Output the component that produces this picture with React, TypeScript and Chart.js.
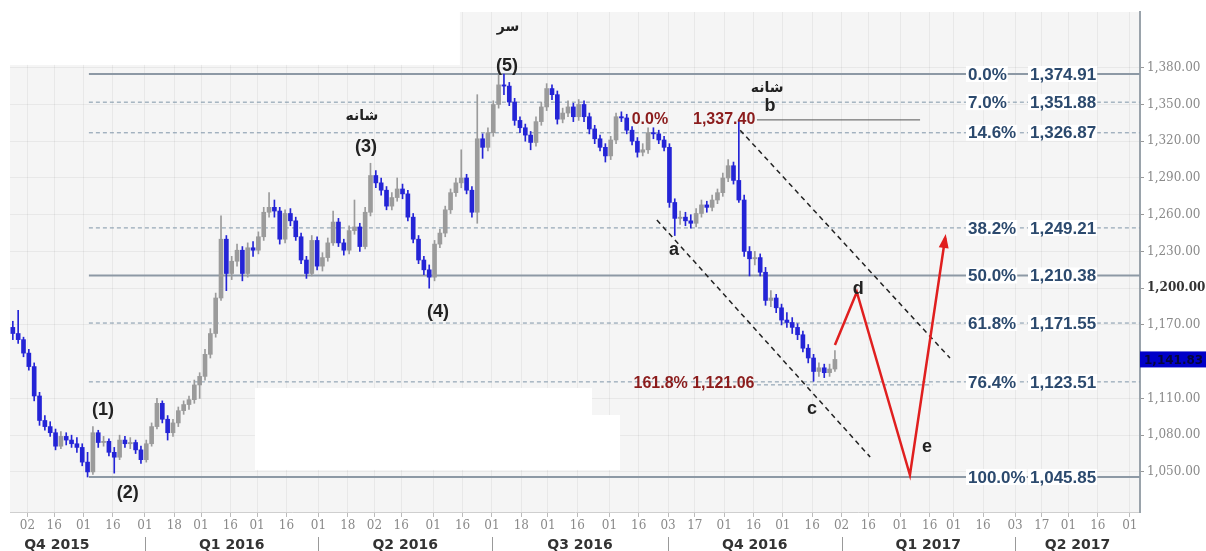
import React, { useEffect, useRef } from "react";
import { Chart, registerables } from "chart.js";
Chart.register(...registerables);

// ---- data: gold, 2-session bars starting 2015-10-23 ----
const START_DATE = "2015-10-23";
const SESSIONS_PER_BAR = 2;

const opens = [
  1168, 1163, 1158, 1147, 1136, 1112, 1092, 1087, 1082, 1071,
  1079, 1076, 1073, 1070, 1058, 1050, 1082, 1074, 1075, 1066,
  1062, 1076, 1073, 1074, 1068, 1060, 1073, 1087, 1106, 1093,
  1082, 1090, 1100, 1105, 1109, 1121, 1128, 1146, 1163, 1192,
  1240, 1212, 1222, 1231, 1212, 1233, 1231, 1242, 1262, 1266,
  1263, 1240, 1261, 1255, 1242, 1223, 1212, 1239, 1218, 1225,
  1237, 1254, 1237, 1231, 1247, 1250, 1234, 1262, 1292, 1286,
  1280, 1267, 1274, 1281, 1277, 1258, 1240, 1223, 1215, 1209,
  1236, 1245, 1264, 1278, 1286, 1290, 1280, 1262, 1322, 1315,
  1327, 1350, 1366, 1365, 1352, 1337, 1331, 1325, 1319, 1336,
  1348, 1363, 1358, 1338, 1343, 1348, 1340, 1350, 1340, 1330,
  1322, 1315, 1308, 1321, 1340, 1339, 1329, 1320, 1311, 1313,
  1327, 1326, 1321, 1315, 1270, 1257, 1258, 1255, 1253, 1261,
  1268, 1266, 1272, 1278, 1290, 1300, 1288, 1272, 1230, 1224,
  1225, 1213, 1190, 1192, 1184, 1174, 1172, 1168, 1162, 1151,
  1143, 1132, 1135, 1131, 1134,
];
const highs = [
  1173, 1182, 1160, 1150, 1139, 1115, 1096, 1091, 1085, 1083,
  1082, 1080, 1078, 1073, 1066, 1087, 1084, 1079, 1077, 1070,
  1080, 1079, 1078, 1076, 1071, 1076, 1090, 1110, 1108, 1096,
  1093, 1103, 1108, 1112, 1125, 1131, 1150, 1167, 1196, 1259,
  1243, 1226, 1236, 1234, 1237, 1238, 1246, 1266, 1278, 1272,
  1266, 1264, 1265, 1258, 1245, 1226, 1243, 1242, 1229, 1241,
  1263, 1257, 1240, 1251, 1272, 1253, 1266, 1302, 1296, 1290,
  1283, 1278, 1290, 1285, 1280, 1261, 1243, 1226, 1219, 1239,
  1248, 1267, 1281, 1290, 1313, 1293, 1283, 1358, 1326, 1331,
  1353, 1374, 1374.91, 1368, 1355, 1340, 1334, 1328, 1340, 1352,
  1367, 1366, 1361, 1347, 1353, 1351, 1354, 1353, 1343, 1333,
  1325, 1318, 1324, 1343, 1344, 1342, 1332, 1323, 1318, 1331,
  1331, 1329, 1324, 1318, 1273, 1263, 1262, 1260, 1265, 1272,
  1271, 1276, 1281, 1294, 1305, 1303, 1337.4, 1276, 1234, 1230,
  1228, 1217, 1198, 1195, 1187, 1180, 1176, 1171, 1165, 1154,
  1146, 1139, 1138, 1138, 1149,
];
const lows = [
  1158, 1155, 1144, 1133, 1108, 1088, 1084, 1079, 1068, 1069,
  1072, 1070, 1066, 1055, 1045.85, 1048, 1070, 1071, 1063, 1049,
  1060, 1070, 1069, 1065, 1057, 1058, 1071, 1085, 1090, 1076,
  1079, 1087, 1097, 1101, 1106, 1110, 1125, 1143, 1160, 1190,
  1198, 1207, 1218, 1206, 1209, 1226, 1228, 1239, 1258, 1258,
  1236, 1237, 1251, 1239, 1220, 1208, 1210, 1215, 1214, 1222,
  1235, 1234, 1227, 1228, 1244, 1230, 1232, 1259, 1282, 1276,
  1264, 1264, 1271, 1273, 1255, 1237, 1220, 1211, 1200, 1206,
  1233, 1242, 1261, 1275, 1282, 1277, 1258, 1253, 1306, 1312,
  1324, 1347, 1358, 1349, 1333, 1327, 1320, 1313, 1316, 1333,
  1345, 1354, 1334, 1335, 1340, 1336, 1337, 1336, 1326, 1318,
  1312, 1303, 1305, 1318, 1336, 1326, 1317, 1307, 1308, 1310,
  1322, 1318, 1312, 1266, 1243, 1252, 1251, 1249, 1250, 1258,
  1262, 1263, 1269, 1275, 1287, 1285, 1270, 1226, 1210, 1219,
  1210, 1186, 1185, 1180, 1170, 1168, 1163, 1158, 1148, 1139,
  1124, 1128, 1127, 1128, 1132,
];
const closes = [
  1163, 1158, 1147, 1136, 1112, 1092, 1087, 1082, 1071, 1079,
  1076, 1073, 1070, 1058, 1050, 1082, 1074, 1075, 1066, 1062,
  1076, 1073, 1074, 1068, 1060, 1073, 1087, 1106, 1093, 1082,
  1090, 1100, 1105, 1109, 1121, 1128, 1146, 1163, 1192, 1240,
  1212, 1222, 1231, 1212, 1233, 1231, 1242, 1262, 1266, 1263,
  1240, 1261, 1255, 1242, 1223, 1212, 1239, 1218, 1225, 1237,
  1254, 1237, 1231, 1247, 1250, 1234, 1262, 1292, 1286, 1280,
  1267, 1274, 1281, 1277, 1258, 1240, 1223, 1215, 1209, 1236,
  1245, 1264, 1278, 1286, 1290, 1280, 1262, 1322, 1315, 1327,
  1350, 1366, 1365, 1352, 1337, 1331, 1325, 1319, 1336, 1348,
  1363, 1358, 1338, 1343, 1348, 1340, 1350, 1340, 1330, 1322,
  1315, 1308, 1321, 1340, 1339, 1329, 1320, 1311, 1313, 1327,
  1326, 1321, 1315, 1270, 1257, 1258, 1255, 1253, 1261, 1268,
  1266, 1272, 1278, 1290, 1300, 1288, 1272, 1230, 1224, 1225,
  1213, 1190, 1192, 1184, 1174, 1172, 1168, 1162, 1151, 1143,
  1132, 1135, 1131, 1134, 1141.83,
];

// Fibonacci retracement
const fibPercents = ["0.0%", "7.0%", "14.6%", "38.2%", "50.0%", "61.8%", "76.4%", "100.0%"];
const fibLevels = [1374.91, 1351.88, 1326.87, 1249.21, 1210.38, 1171.55, 1123.51, 1045.85];
const fibSolid = [true, false, false, false, true, false, false, true];
const fibStartSession = 29;

// axis ticks
const yTickValues = [1050, 1080, 1110, 1170, 1200, 1230, 1260, 1290, 1320, 1350, 1380];
const dayTickDates = [
  "2015-11-02", "2015-11-16", "2015-12-01", "2015-12-16",
  "2016-01-01", "2016-01-18", "2016-02-01", "2016-02-16", "2016-03-01", "2016-03-16",
  "2016-04-01", "2016-04-18", "2016-05-02", "2016-05-16", "2016-06-01", "2016-06-16",
  "2016-07-01", "2016-07-18", "2016-08-01", "2016-08-16", "2016-09-01", "2016-09-16",
  "2016-10-03", "2016-10-17", "2016-11-01", "2016-11-16", "2016-12-01", "2016-12-16",
  "2017-01-02", "2017-01-16", "2017-02-01", "2017-02-16", "2017-03-01", "2017-03-16",
  "2017-04-03", "2017-04-17", "2017-05-01", "2017-05-16", "2017-06-01",
];
const quarterStarts = ["2015-10-01", "2016-01-01", "2016-04-01", "2016-07-01", "2016-10-01", "2017-01-01", "2017-04-01", "2017-07-01"];
const quarterLabels = ["Q4 2015", "Q1 2016", "Q2 2016", "Q3 2016", "Q4 2016", "Q1 2017", "Q2 2017"];

// wave annotations (session index, price)
const waveLabels = [
  { text: "(1)", x: 34.3, y: 1100.6, kind: "wave" },
  { text: "(2)", x: 43.6, y: 1032.8, kind: "wave" },
  { text: "(3)", x: 132.8, y: 1315.3, kind: "wave" },
  { text: "(4)", x: 159.8, y: 1180.6, kind: "wave" },
  { text: "(5)", x: 185.6, y: 1381.1, kind: "wave" },
  { text: "سر", x: 186.0, y: 1413.0, kind: "fa" },
  { text: "شانه", x: 131.3, y: 1340.6, kind: "fa" },
  { text: "شانه", x: 283.1, y: 1363.5, kind: "fa" },
  { text: "b", x: 284.2, y: 1348.8, kind: "wave" },
  { text: "a", x: 248.2, y: 1231.2, kind: "wave" },
  { text: "c", x: 299.9, y: 1101.4, kind: "wave" },
  { text: "d", x: 317.2, y: 1199.3, kind: "wave" },
  { text: "e", x: 343.0, y: 1070.3, kind: "wave" },
  { text: "0.0%", x: 239.2, y: 1337.4, kind: "red" },
  { text: "1,337.40", x: 267.0, y: 1337.4, kind: "red" },
  { text: "161.8% 1,121.06", x: 255.7, y: 1121.9, kind: "red" },
];
const channelUpper = [{ x: 273, y: 1329 }, { x: 351.6, y: 1143 }];
const channelLower = [{ x: 241.8, y: 1255.7 }, { x: 321.7, y: 1062.2 }];
const projection = [
  { x: 308.5, y: 1153.6 }, { x: 316.7, y: 1196.9 }, { x: 336.6, y: 1047.5 }, { x: 349.8, y: 1241 },
];
const bLevel = [{ x: 279.3, y: 1337.4 }, { x: 340.4, y: 1337.4 }];
const ext1618 = [{ x: 279.3, y: 1121.06 }, { x: 345, y: 1121.06 }];
// blanked-out regions of the original picture (session index, price)
const blankBoxes = [
  { x0: 91.2, x1: 217.5, y0: 1118.5, y1: 1051.6 },
  { x0: 217.5, x1: 228.0, y0: 1096.5, y1: 1051.6 },
  { x0: -1, x1: 168, y0: 1480, y1: 1382.3 },
];

function sessionIndex(s: string): number {
  const day = 86400000;
  const t = Date.parse(s + "T00:00:00Z");
  const t0 = Date.parse(START_DATE + "T00:00:00Z");
  let n = 0;
  if (t >= t0) {
    for (let u = t0; u < t; u += day) { const w = new Date(u).getUTCDay(); if (w !== 0 && w !== 6) n++; }
  } else {
    for (let u = t; u < t0; u += day) { const w = new Date(u).getUTCDay(); if (w !== 0 && w !== 6) n--; }
  }
  return n;
}
const barX = (i: number) => i * SESSIONS_PER_BAR + 0.5;

const BLUE = "#2424d6";
const GRAY = "#9b9b9b";
const FIB_COLOR = "#2c4a6e";
const RED_TXT = "#8b1c1c";

const fmt = (v: number) => v.toLocaleString("en-US", { minimumFractionDigits: 2, maximumFractionDigits: 2 });

const overlay: any = {
  id: "overlay",
  beforeDraw(chart: any) {
    const { ctx, chartArea: a } = chart;
    ctx.save();
    ctx.fillStyle = "#ffffff";
    ctx.fillRect(0, 0, chart.width, chart.height);
    ctx.fillStyle = "#f5f5f5";
    ctx.fillRect(a.left, a.top, a.right - a.left, a.bottom - a.top);
    ctx.restore();
  },
  beforeDatasetsDraw(chart: any) {
    const { ctx, chartArea: a } = chart;
    const xs = chart.scales.x, ys = chart.scales.y;
    ctx.save();
    ctx.beginPath();
    ctx.rect(a.left, 0, a.right - a.left, a.bottom);
    ctx.clip();
    ctx.fillStyle = "#ffffff";
    blankBoxes.forEach((b) => {
      const x0 = xs.getPixelForValue(b.x0), x1 = xs.getPixelForValue(b.x1);
      const y0 = ys.getPixelForValue(b.y0), y1 = ys.getPixelForValue(b.y1);
      ctx.fillRect(x0, Math.min(y0, y1), x1 - x0, Math.abs(y1 - y0));
    });
    ctx.restore();
  },
  afterDatasetsDraw(chart: any) {
    const { ctx, chartArea: a } = chart;
    const xs = chart.scales.x, ys = chart.scales.y;
    ctx.save();
    // arrow head on projection
    const p3 = projection[projection.length - 2], p4 = projection[projection.length - 1];
    const ax = xs.getPixelForValue(p4.x), ay = ys.getPixelForValue(p4.y);
    const bx = xs.getPixelForValue(p3.x), by = ys.getPixelForValue(p3.y);
    const ang = Math.atan2(ay - by, ax - bx);
    ctx.fillStyle = "#e01f1f";
    ctx.beginPath();
    ctx.moveTo(ax + Math.cos(ang) * 4, ay + Math.sin(ang) * 4);
    ctx.lineTo(ax - Math.cos(ang) * 10 - Math.sin(ang) * 5, ay - Math.sin(ang) * 10 + Math.cos(ang) * 5);
    ctx.lineTo(ax - Math.cos(ang) * 10 + Math.sin(ang) * 5, ay - Math.sin(ang) * 10 - Math.cos(ang) * 5);
    ctx.closePath();
    ctx.fill();

    // fib labels
    ctx.font = "bold 17px 'Liberation Sans', Arial, sans-serif";
    ctx.textBaseline = "middle";
    ctx.textAlign = "left";
    fibLevels.forEach((lv, k) => {
      const y = ys.getPixelForValue(lv);
      const pct = fibPercents[k];
      const val = fmt(lv);
      const px = a.right - 172, vx = a.right - 110;
      const pw = ctx.measureText(pct).width, vw = ctx.measureText(val).width;
      ctx.fillStyle = "#ffffff";
      ctx.fillRect(px - 2, y - 8, pw + 3, 16);
      ctx.fillRect(vx - 2, y - 8, vw + 3, 16);
      ctx.fillStyle = FIB_COLOR;
      ctx.fillText(pct, px, y + 1);
      ctx.fillText(val, vx, y + 1);
    });

    // wave labels
    ctx.textAlign = "center";
    waveLabels.forEach((w) => {
      const x = xs.getPixelForValue(w.x), y = ys.getPixelForValue(w.y);
      if (w.kind === "wave") { ctx.font = "bold 18px 'Liberation Sans', Arial, sans-serif"; ctx.fillStyle = "#222"; }
      else if (w.kind === "fa") { ctx.font = "bold 14px 'DejaVu Sans', sans-serif"; ctx.fillStyle = "#222"; }
      else { ctx.font = "bold 16px 'Liberation Sans', Arial, sans-serif"; ctx.fillStyle = RED_TXT; }
      ctx.fillText(w.text, x, y);
    });

    // last price box
    const last = closes[closes.length - 1];
    const ly = ys.getPixelForValue(last);
    ctx.fillStyle = "#0000c8";
    ctx.fillRect(a.right, ly - 8, chart.width - a.right, 16);
    ctx.fillStyle = "#06063a";
    ctx.font = "bold 12px 'DejaVu Sans', sans-serif";
    ctx.textAlign = "left";
    ctx.fillText(fmt(last), a.right + 4, ly + 1);
    ctx.restore();
  },
  afterDraw(chart: any) {
    const { ctx, chartArea: a } = chart;
    const xs = chart.scales.x;
    ctx.save();
    ctx.strokeStyle = "#999";
    ctx.lineWidth = 1;
    ctx.fillStyle = "#333";
    ctx.font = "bold 14px 'DejaVu Sans', sans-serif";
    ctx.textAlign = "center";
    ctx.textBaseline = "middle";
    for (let k = 0; k < quarterLabels.length; k++) {
      const x0 = xs.getPixelForValue(sessionIndex(quarterStarts[k]));
      const x1 = Math.min(xs.getPixelForValue(sessionIndex(quarterStarts[k + 1])), a.right);
      if (x0 > a.left && x0 < a.right) {
        ctx.beginPath();
        ctx.moveTo(Math.round(x0) + 0.5, a.bottom + 25);
        ctx.lineTo(Math.round(x0) + 0.5, chart.height);
        ctx.stroke();
      }
      ctx.fillText(quarterLabels[k], (x0 + x1) / 2, a.bottom + 33);
    }
    ctx.restore();
  },
};

export default function App() {
  const ref = useRef<HTMLCanvasElement>(null);
  useEffect(() => {
    document.body.style.margin = "0";
    document.body.style.overflow = "hidden";
    const colors = closes.map((c, i) => (c < opens[i] ? BLUE : GRAY));
    const bodies = closes.map((c, i) => ({ x: barX(i), y: [opens[i], c] }));
    const wicks = closes.map((c, i) => ({ x: barX(i), y: [lows[i], highs[i]] }));
    const endX = 422.8;
    const fibSets = fibLevels.map((lv, k) => ({
      type: "line",
      data: [{ x: fibStartSession, y: lv }, { x: endX, y: lv }],
      borderColor: fibSolid[k] ? "#8d99a5" : "#7f95a8",
      borderWidth: fibSolid[k] ? 2 : 1,
      borderDash: fibSolid[k] ? [] : [4, 3],
      pointRadius: 0,
      fill: false,
      order: 6,
    }));
    const chart = new Chart(ref.current as HTMLCanvasElement, {
      type: "bar",
      data: {
        datasets: [
          ...fibSets,
          { type: "line", data: ext1618, borderColor: "#7f95a8", borderWidth: 1, borderDash: [4, 3], pointRadius: 0, order: 6 },
          { type: "line", data: bLevel, borderColor: "#555", borderWidth: 1, pointRadius: 0, order: 6 },
          { type: "bar", data: wicks, backgroundColor: colors, barThickness: 1, grouped: false, order: 3 } as any,
          { type: "bar", data: bodies, backgroundColor: colors, barThickness: 4, grouped: false, minBarLength: 1, order: 2 } as any,
          { type: "line", data: channelUpper, borderColor: "#222", borderWidth: 1.5, borderDash: [5, 4], pointRadius: 0, order: 1 },
          { type: "line", data: channelLower, borderColor: "#222", borderWidth: 1.5, borderDash: [5, 4], pointRadius: 0, order: 1 },
          { type: "line", data: projection, borderColor: "#e01f1f", borderWidth: 2.5, pointRadius: 0, tension: 0, order: 0 },
        ] as any,
      },
      options: {
        animation: false,
        responsive: false,
        devicePixelRatio: 1,
        layout: { padding: { left: 10, top: 12, right: 0, bottom: 0 } },
        plugins: { legend: { display: false }, tooltip: { enabled: false } },
        events: [],
        scales: {
          x: {
            type: "linear",
            min: -0.56,
            max: endX,
            offset: false,
            grid: { offset: false, color: "rgba(0,0,0,0.05)", drawTicks: true, tickLength: 5, tickColor: "#bbb" },
            border: { color: "#cfcfcf" },
            afterBuildTicks: (s: any) => { s.ticks = dayTickDates.map((d) => ({ value: sessionIndex(d) })); },
            afterFit: (s: any) => { s.height = 39; },
            ticks: {
              autoSkip: false,
              maxRotation: 0,
              padding: 2,
              color: "#8a8a8a",
              font: { family: "'DejaVu Serif', serif", size: 12 },
              callback: (_v: any, i: number) => dayTickDates[i].slice(8, 10),
            },
          },
          y: {
            type: "linear",
            position: "right",
            min: 1017.27,
            max: 1425.5,
            beginAtZero: false,
            grid: { color: "rgba(0,0,0,0.05)", drawTicks: true, tickLength: 4, tickColor: "#999" },
            border: { color: "#9aa3ab", width: 2 },
            afterBuildTicks: (s: any) => { s.ticks = yTickValues.map((v) => ({ value: v })); },
            afterFit: (s: any) => { s.width = 66; },
            ticks: {
              padding: 3,
              color: (c: any) => (c.tick && c.tick.value === 1200 ? "#333" : "#8a8a8a"),
              font: (c: any) => (c.tick && c.tick.value === 1200
                ? { family: "'DejaVu Serif', serif", size: 12, weight: "bold" }
                : { family: "'DejaVu Serif', serif", size: 12 }),
              callback: (v: any) => fmt(Number(v)),
            },
          },
        },
      } as any,
      plugins: [overlay],
    });
    return () => chart.destroy();
  }, []);
  return (
    <div style={{ position: "absolute", left: 0, top: 0, width: 1206, height: 551 }}>
      <canvas ref={ref} width={1206} height={551} style={{ width: 1206, height: 551, display: "block" }} />
    </div>
  );
}
